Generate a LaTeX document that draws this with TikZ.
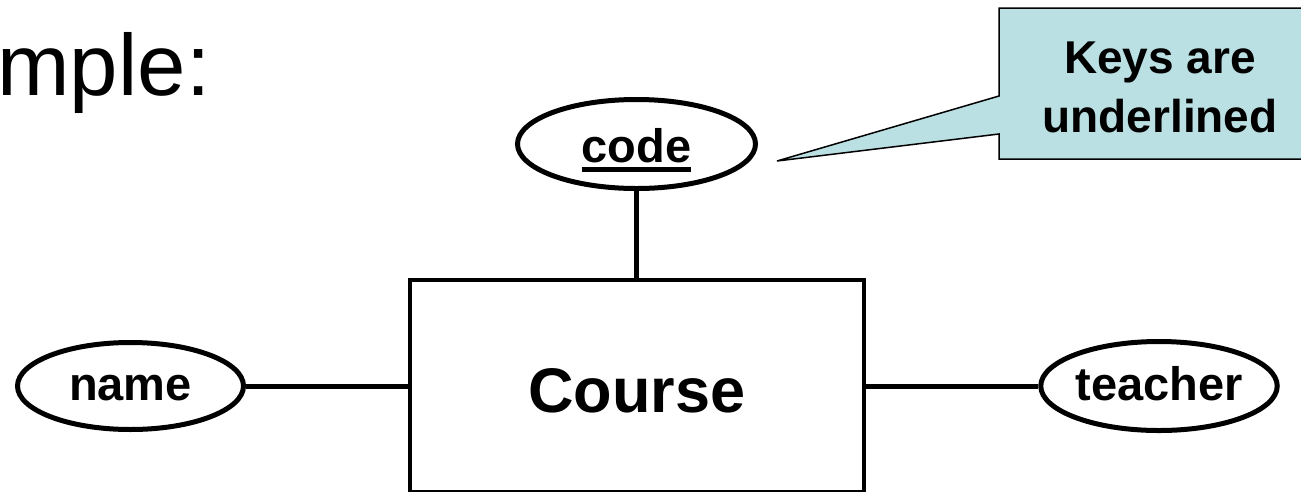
\documentclass[tikz,border=0pt]{standalone}
\usepackage{fontspec}
\setmainfont{Liberation Sans}
\usetikzlibrary{shapes.geometric}
\definecolor{calloutblue}{RGB}{186,224,227}
\tikzset{
  attr/.style={ellipse, draw=black, line width=5pt, inner sep=0pt, text depth=0pt,
    font=\fontsize{47}{56}\selectfont\bfseries},
  entity/.style={rectangle, draw=black, line width=4.5pt, inner sep=0pt,
    minimum width=454pt, minimum height=212pt, text height=52pt, text depth=0pt,
    font=\fontsize{63}{75}\selectfont\bfseries},
  conn/.style={line width=5pt},
  callouttext/.style={anchor=base, inner sep=0pt, font=\fontsize{46}{59}\selectfont\bfseries},
  callout/.style={fill=calloutblue, draw=black, line width=1.5pt, line join=miter}
}
\begin{document}
\begin{tikzpicture}[x=1pt,y=-1pt]
\useasboundingbox (0,0) rectangle (1301,491);
% title fragment
\node[anchor=base west, inner sep=0pt, font=\fontsize{87}{100}\selectfont] (title) at (-2.7,95) {mple:};
% callout
\coordinate (tip) at (777,161);
\draw[callout] (1325,8) -- (1325,159) -- (999,159) -- (999,134) -- (tip) -- (999,96) -- (999,8) -- cycle;
\node[callouttext] (keys1) at (1160,73) {Keys are};
\node[callouttext] (keys2) at (1160,132) {underlined};
% entity and attributes
\node[entity] (course) at (637,386) {Course};
\node[attr, minimum width=238pt, minimum height=89pt, text height=36pt] (code) at (636.5,144)
  {\setbox0\hbox{code}\rlap{\rule[-10pt]{\wd0}{5pt}}\box0};
\node[attr, minimum width=226pt, minimum height=87pt, text height=28pt] (name) at (130.5,386) {name};
\node[attr, minimum width=227pt, minimum height=89pt, text height=28pt] (teacher) at (1159,386) {teacher};
% connectors
\draw[conn] (code.south) -- (code.south |- course.north);
\draw[conn] (name.east) -- (course.west);
\draw[conn] (course.east) -- (teacher.west);
\end{tikzpicture}
\end{document}
